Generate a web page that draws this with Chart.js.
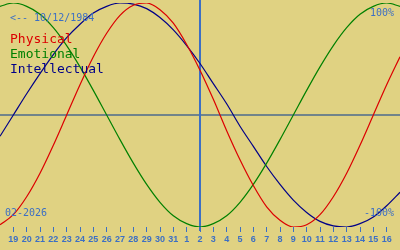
<!DOCTYPE html>
<html>
<head>
<meta charset="utf-8">
<script src="https://cdn.jsdelivr.net/npm/chart.js@4/dist/chart.umd.min.js"></script>
<style>
  html, body { margin: 0; padding: 0; background: #e0d282; }
  #wrap { width: 400px; height: 250px; position: relative; }
</style>
</head>
<body>
<div id="wrap"><canvas id="c" width="400" height="250"></canvas></div>
<script>
// Day index 0..30 -> calendar day labels (18 Jan .. 17 Feb)
const dayLabels = ['18','19','20','21','22','23','24','25','26','27','28','29','30','31',
                   '1','2','3','4','5','6','7','8','9','10','11','12','13','14','15','16','17'];
const todayIndex = 15; // 2 Feb
const physical = [-0.98,-0.89,-0.73,-0.52,-0.27,0.00,0.27,0.52,0.73,0.89,0.98,1.00,0.94,0.82,0.63,0.40,0.14,-0.14,-0.40,-0.63,-0.82,-0.94,-1.00,-0.98,-0.89,-0.73,-0.52,-0.27,0.00,0.27,0.52];
const emotional = [0.97,1.00,0.97,0.90,0.78,0.62,0.43,0.22,0.00,-0.22,-0.43,-0.62,-0.78,-0.90,-0.97,-1.00,-0.97,-0.90,-0.78,-0.62,-0.43,-0.22,0.00,0.22,0.43,0.62,0.78,0.90,0.97,1.00,0.97];
const intellectual = [-0.19,0.00,0.19,0.37,0.54,0.69,0.81,0.91,0.97,1.00,0.99,0.95,0.87,0.76,0.62,0.46,0.28,0.10,-0.10,-0.28,-0.46,-0.62,-0.76,-0.87,-0.95,-0.99,-1.00,-0.97,-0.91,-0.81,-0.69];
const seriesNames = ['Physical','Emotional','Intellectual'];
const seriesColors = ['#dc0000','#008000','#000088'];
const birthText = '<-- 10/12/1984';
const monthText = '02-2026';
const topText = '100%';
const bottomText = '-100%';

const BLUE = '#3c6fc4';

function pts(arr){ return arr.map((v,i)=>({x:i,y:v})); }

const overlay = {
  id: 'overlay',
  beforeDatasetsDraw(chart){
    const {ctx, chartArea, scales:{x,y}} = chart;
    ctx.save();
    // zero line
    const y0 = Math.round(y.getPixelForValue(0));
    ctx.strokeStyle = '#4d6a8c';
    ctx.lineWidth = 1.5;
    ctx.beginPath(); ctx.moveTo(0, y0); ctx.lineTo(400, y0); ctx.stroke();
    // today line
    const xt = Math.round(x.getPixelForValue(todayIndex));
    ctx.strokeStyle = BLUE;
    ctx.lineWidth = 2;
    ctx.beginPath(); ctx.moveTo(xt, 0); ctx.lineTo(xt, chartArea.bottom + 4); ctx.stroke();
    ctx.restore();
  },
  afterDatasetsDraw(chart){
    const {ctx} = chart;
    ctx.save();
    ctx.textBaseline = 'alphabetic';
    ctx.fillStyle = BLUE;
    ctx.font = '10px "DejaVu Sans Mono"';
    ctx.textAlign = 'left';
    ctx.fillText(birthText, 10, 21);
    ctx.fillText(monthText, 5, 216);
    ctx.textAlign = 'right';
    ctx.fillText(topText, 394, 16);
    ctx.fillText(bottomText, 394, 216);
    ctx.textAlign = 'left';
    ctx.font = '13px "DejaVu Sans Mono"';
    seriesNames.forEach((n,i)=>{
      ctx.fillStyle = seriesColors[i];
      ctx.fillText(n, 10, 43 + i*15);
    });
    ctx.restore();
  }
};

new Chart(document.getElementById('c'), {
  type: 'line',
  data: {
    datasets: [
      {label: seriesNames[0], data: pts(physical), borderColor: seriesColors[0]},
      {label: seriesNames[1], data: pts(emotional), borderColor: seriesColors[1]},
      {label: seriesNames[2], data: pts(intellectual), borderColor: seriesColors[2]}
    ].map(d=>Object.assign(d,{borderWidth:1.2, pointRadius:0, cubicInterpolationMode:'monotone', fill:false}))
  },
  options: {
    responsive: false,
    animation: false,
    layout: { padding: { top: 3, bottom: 0, left: 0, right: 0 } },
    plugins: { legend: {display:false}, tooltip: {enabled:false} },
    scales: {
      x: {
        type: 'linear', min: 0, max: dayLabels.length - 1,
        afterBuildTicks(scale){
          scale.ticks = dayLabels.map((l,i)=>({value:i})).filter(t=>t.value>0 && t.value<dayLabels.length-1);
        },
        afterFit(scale){ scale.height = 23; },
        border: {display:false},
        grid: {drawOnChartArea:false, drawTicks:true, tickLength:5, color: BLUE, lineWidth:1},
        ticks: {
          autoSkip:false, maxRotation:0, padding:2, color: BLUE,
          font: {family:'"Liberation Sans"', size:9, weight:'bold'},
          callback: (v)=> dayLabels[v]
        }
      },
      y: { display:false, min:-1, max:1 }
    }
  },
  plugins: [overlay]
});
</script>
</body>
</html>
